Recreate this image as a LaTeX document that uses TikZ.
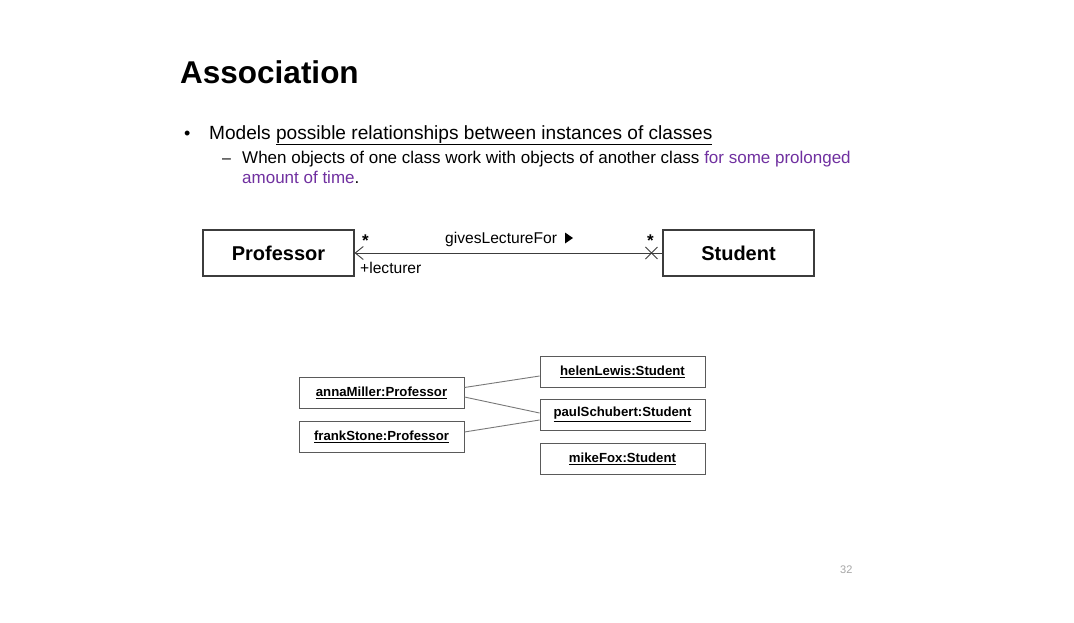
\documentclass[tikz,border=0pt]{standalone}
\usepackage{fontspec}
\setmainfont{Liberation Sans}
\usetikzlibrary{arrows.meta}
\definecolor{slidepurple}{RGB}{112,48,160}
\definecolor{boxline}{RGB}{60,60,60}
\definecolor{objline}{RGB}{90,90,90}
\definecolor{linkgray}{RGB}{120,120,120}
\begin{document}
\begin{tikzpicture}[x=1pt,y=-1pt,
  txt/.style={inner sep=0pt,anchor=base west,text=black},
  classbox/.style={draw=boxline,line width=1.1pt,minimum width=151pt,minimum height=46pt,inner sep=0pt,
    font=\fontsize{20}{24}\selectfont\bfseries},
  objbox/.style={draw=objline,line width=0.9pt,minimum width=165pt,minimum height=31pt,inner sep=0pt,
    font=\fontsize{13.2}{15}\selectfont\bfseries},
  assoc/.style={draw=boxline,line width=0.9pt},
  link/.style={draw=linkgray,line width=0.9pt},
  lbl/.style={inner sep=0pt,font=\fontsize{15.6}{18}\selectfont},
  mult/.style={inner sep=0pt,font=\fontsize{17}{18}\selectfont\bfseries}]
\useasboundingbox (0,0) rectangle (1074,622);
\fill[white] (0,0) rectangle (1074,622);

% heading and bullets
\node[txt,font=\fontsize{31.5}{36}\selectfont\bfseries] (title) at (180,83) {Association};
\node[txt,font=\fontsize{18}{20}\selectfont] (b1) at (184,139) {•};
\node[txt,font=\fontsize{19.1}{22}\selectfont] (l1) at (209,139)
  {Models \underline{possible relationships between instances of classes}};
\node[txt,font=\fontsize{16}{18}\selectfont] (d1) at (222,163) {–};
\node[txt,font=\fontsize{17}{19}\selectfont] (l2) at (242,163)
  {When objects of one class work with objects of another class \textcolor{slidepurple}{for some prolonged}};
\node[txt,font=\fontsize{17}{19}\selectfont] (l3) at (242,183)
  {\textcolor{slidepurple}{amount of time}.};

% class diagram
\node[classbox] (prof) at (278.5,253) {Professor};
\node[classbox] (stud) at (738.5,253) {Student};
\draw[assoc,{Straight Barb[length=8pt,width=13pt,line width=0.9pt]}-] (prof.east) -- (stud.west);
\coordinate (xc) at ([xshift=-11pt]stud.west);
\draw[assoc] ([shift={(-6,-6)}]xc) -- ([shift={(6,6)}]xc)
             ([shift={(-6,6)}]xc) -- ([shift={(6,-6)}]xc);
\node[mult,anchor=base west] (m1) at (362,246) {*};
\node[mult,anchor=base west] (m2) at (647,246) {*};
\node[lbl,anchor=base west] (name) at (445,243) {givesLectureFor};
\fill (565,232.5) -- (573,238) -- (565,243.5) -- cycle;
\node[lbl,anchor=base west] (role) at (360,273) {+lecturer};

% object diagram
\node[objbox] (anna) at (381.5,392.5) {\underline{annaMiller:Professor}};
\node[objbox] (frank) at (381.5,436.5) {\underline{frankStone:Professor}};
\node[objbox] (helen) at (622.5,371.5) {\underline{helenLewis:Student}};
\node[objbox] (paul) at (622.5,414.5) {\underline{paulSchubert:Student}};
\node[objbox] (mike) at (622.5,458.5) {\underline{mikeFox:Student}};
\draw[link] ([yshift=5pt]anna.east) -- ([yshift=-4.5pt]helen.west);
\draw[link] ([yshift=-4.5pt]anna.east) -- ([yshift=1.5pt]paul.west);
\draw[link] ([yshift=4.5pt]frank.east) -- ([yshift=-5.5pt]paul.west);

% page number
\node[txt,text=black!35,font=\fontsize{11}{12}\selectfont] (page) at (840,573) {32};
\end{tikzpicture}
\end{document}
